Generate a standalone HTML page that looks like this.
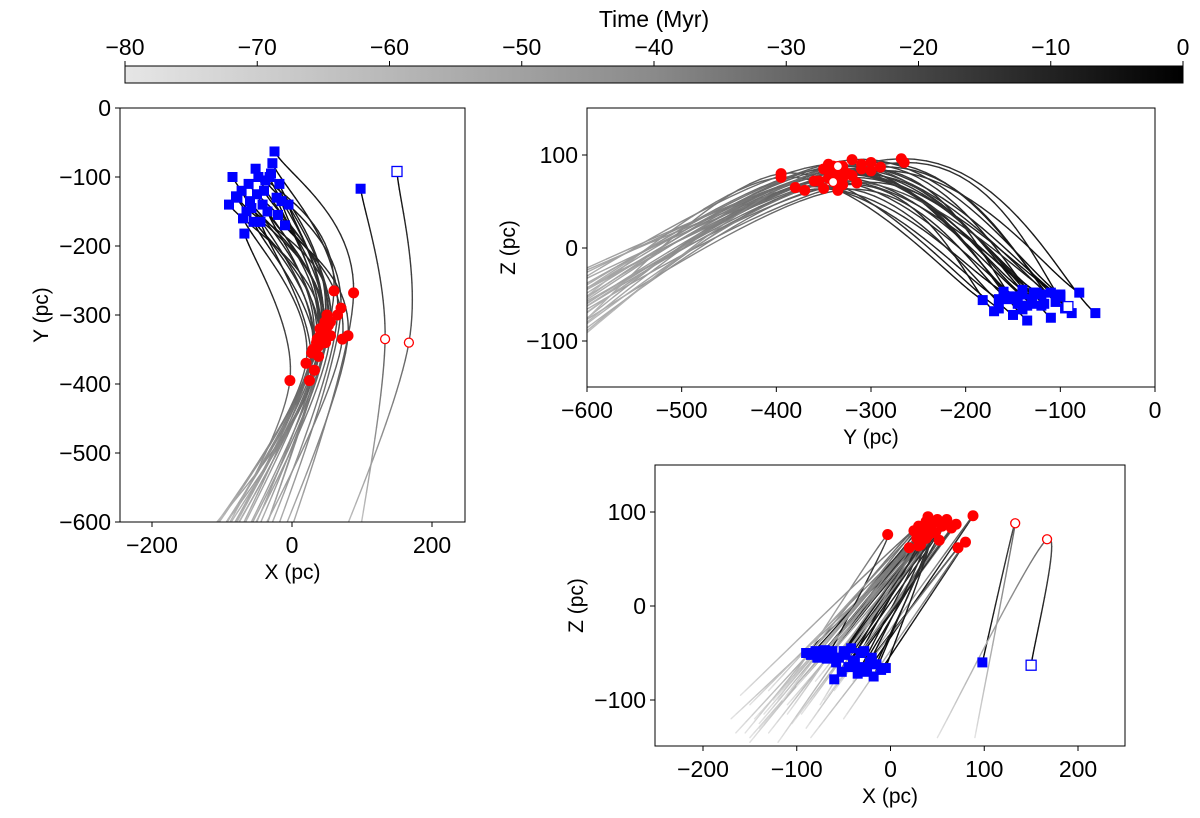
<!DOCTYPE html>
<html><head><meta charset="utf-8"><style>
body{margin:0;background:#fff;}
svg text{font-family:"Liberation Sans","DejaVu Sans",sans-serif;fill:#000;}
</style></head><body>
<svg id="fig" width="1200" height="813" viewBox="0 0 1200 813" xmlns="http://www.w3.org/2000/svg">
<defs>
<linearGradient id="cbg" x1="0" x2="1" y1="0" y2="0"><stop offset="0" stop-color="#e6e6e6"/><stop offset="0.5" stop-color="#8a8a8a"/><stop offset="1" stop-color="#000"/></linearGradient>
<clipPath id="c1"><rect x="120" y="108" width="345" height="414"/></clipPath>
<clipPath id="c2"><rect x="587" y="108" width="568" height="279"/></clipPath>
<clipPath id="c3"><rect x="655" y="465" width="470" height="281"/></clipPath>
</defs>
<g id="cbar"></g>
<g id="p1"></g>
<g id="p2"></g>
<g id="p3"></g>
</svg>
<script>
const nowX=[-90,-85,-80,-78,-72,-70,-68,-65,-62,-60,-58,-55,-52,-50,-48,-45,-42,-40,-38,-35,-32,-30,-28,-25,-22,-20,-18,-15,-10,-5,98,150];
const nowY=[-140,-100,-128,-130,-120,-160,-182,-150,-110,-135,-145,-165,-88,-125,-100,-165,-140,-120,-105,-150,-100,-95,-80,-63,-130,-155,-110,-135,-170,-140,-117,-92];
const nowZ=[-50,-52,-48,-55,-50,-47,-56,-52,-48,-78,-60,-55,-70,-48,-52,-65,-45,-62,-58,-72,-50,-65,-48,-70,-60,-55,-75,-62,-68,-66,-60,-63];
const birthX=[40,35,30,45,28,20,-3,38,50,42,55,32,60,36,45,25,48,52,70,30,40,55,65,88,35,72,47,38,80,42,133,167];
const birthY=[-330,-340,-350,-320,-355,-370,-395,-345,-300,-325,-310,-380,-265,-335,-330,-395,-340,-315,-290,-350,-320,-330,-300,-268,-345,-335,-310,-360,-330,-340,-335,-340];
const birthZ=[75,80,85,78,72,62,76,90,92,80,85,65,92,82,88,80,78,70,87,64,95,85,83,96,75,62,90,72,68,88,88,71];
const endX=[-170,-150,-160,-140,-165,-150,-120,-130,-100,-145,-110,-150,-80,-135,-125,-155,-105,-90,-60,-120,-115,-95,-70,-40,-140,-85,-75,-130,-50,-110,90,50];
const endY=[-700,-690,-680,-710,-690,-670,-660,-700,-720,-690,-710,-680,-730,-700,-690,-660,-700,-710,-720,-680,-700,-690,-710,-730,-680,-700,-720,-670,-710,-690,-660,-680];
const endZ=[-120,-105,-95,-130,-135,-145,-100,-90,-85,-120,-105,-140,-80,-115,-100,-135,-125,-130,-90,-145,-100,-115,-100,-80,-125,-140,-105,-135,-120,-115,-140,-140];
const birthT=[-25,-24,-26,-23,-27,-28,-30,-25,-22,-24,-23,-28,-20,-25,-24,-29,-25,-23,-21,-27,-24,-25,-22,-20,-26,-25,-23,-27,-24,-25,-30,-32];
const openStar=[false,false,false,false,false,false,false,false,false,false,false,false,false,false,false,false,false,false,false,false,false,false,false,false,false,false,false,false,false,false,false,true];
const cbTicks=[-80,-70,-60,-50,-40,-30,-20,-10,0];

const NS="http://www.w3.org/2000/svg";
function mk(parent,tag,attrs,name){const e=document.createElementNS(NS,tag);for(const k in attrs)e.setAttribute(k,attrs[k]);


parent.appendChild(e);return e;}
function txt(parent,x,y,s,size,anchor,name,rot){const t=mk(parent,'text',{x:x,y:y,'font-size':size,'text-anchor':anchor},name);if(rot)t.setAttribute('transform',`rotate(-90 ${x} ${y})`);t.textContent=s;return t;}
function lab(v){return v<0?'\u2212'+Math.abs(v):''+v;}
function grey(t){const v=Math.round(225*Math.min(1,Math.max(0,-t/80)));return `rgb(${v},${v},${v})`;}

const cb=document.getElementById('cbar');
const cbx=v=>125+(v+80)/80*1058;
mk(cb,'rect',{x:125,y:66,width:1058,height:17,fill:'url(#cbg)',stroke:'#000','stroke-width':1},'colorbar-gradient');
cbTicks.forEach(v=>{mk(cb,'line',{x1:cbx(v),x2:cbx(v),y1:61,y2:66,stroke:'#000'},'colorbar-tick');txt(cb,cbx(v),55,lab(v),23,'middle','colorbar-tick-label');});
txt(cb,654,27,'Time (Myr)',23,'middle','colorbar-title');

function panel(id,clip,box,xd,yd,xt,yt,xl,yl,getX,getY){
  const g=document.getElementById(id);
  const sx=v=>xd[2]+(v-xd[0])/(xd[1]-xd[0])*(xd[3]-xd[2]);
  const sy=v=>yd[2]+(v-yd[0])/(yd[1]-yd[0])*(yd[3]-yd[2]);
  const cg=mk(g,'g',{'clip-path':`url(#${clip})`},'plot-area');
  for(let i=0;i<nowX.length;i++){
    const P=[[getX(nowX,nowY,nowZ,i),getY(nowX,nowY,nowZ,i),0],[getX(birthX,birthY,birthZ,i),getY(birthX,birthY,birthZ,i),birthT[i]],[getX(endX,endY,endZ,i),getY(endX,endY,endZ,i),-80]];
    const pts=[P[0],P[0],P[1],P[2],P[2]];
    let prev=null;
    for(let s=0;s<2;s++){const p0=pts[s],p1=pts[s+1],p2=pts[s+2],p3=pts[s+3];
      for(let k=0;k<=24;k++){const t=k/24,t2=t*t,t3=t2*t;
        const cr=j=>0.5*((2*p1[j])+(-p0[j]+p2[j])*t+(2*p0[j]-5*p1[j]+4*p2[j]-p3[j])*t2+(-p0[j]+3*p1[j]-3*p2[j]+p3[j])*t3);
        const q=[sx(cr(0)),sy(cr(1)),p1[2]+(p2[2]-p1[2])*t];
        if(prev)mk(cg,'line',{x1:prev[0],y1:prev[1],x2:q[0],y2:q[1],stroke:grey(q[2]),'stroke-width':1.4,'stroke-linecap':'round'},'trajectory-segment');
        prev=q;}}
  }
  for(let i=0;i<nowX.length;i++){
    const bx=sx(getX(birthX,birthY,birthZ,i)),by=sy(getY(birthX,birthY,birthZ,i));
    const op=i>=30;
    mk(cg,'circle',{cx:bx,cy:by,r:op?4.5:5.5,fill:op?'#fff':'#f00',stroke:'#f00','stroke-width':op?1.3:0},'birth-position-marker');
  }
  for(let i=0;i<nowX.length;i++){
    const x=sx(getX(nowX,nowY,nowZ,i)),y=sy(getY(nowX,nowY,nowZ,i));
    const op=openStar[i];
    mk(cg,'rect',{x:x-5,y:y-5,width:10,height:10,fill:op?'#fff':'#00f',stroke:'#00f','stroke-width':op?1.3:0},'current-position-marker');
  }
  mk(g,'rect',{x:box[0],y:box[1],width:box[2]-box[0],height:box[3]-box[1],fill:'none',stroke:'#000','stroke-width':1},'axes-frame');
  xt.forEach(v=>{const x=sx(v);mk(g,'line',{x1:x,x2:x,y1:box[3],y2:box[3]+5,stroke:'#000'},'x-tick');txt(g,x,box[3]+31,lab(v),23,'middle','x-tick-label');});
  yt.forEach(v=>{const y=sy(v);mk(g,'line',{x1:box[0]-5,x2:box[0],y1:y,y2:y,stroke:'#000'},'y-tick');txt(g,box[0]-9,y+8,lab(v),23,'end','y-tick-label');});
  txt(g,(box[0]+box[2])/2,box[3]+57,xl,21,'middle','x-axis-title');
  txt(g,box[0]-72,(box[1]+box[3])/2,yl,21,'middle','y-axis-title',true);
}
panel('p1','c1',[120,108,465,522],[-200,200,152,432],[0,-600,108,522],[-200,0,200],[0,-100,-200,-300,-400,-500,-600],'X (pc)','Y (pc)',(X,Y,Z,i)=>X[i],(X,Y,Z,i)=>Y[i]);
panel('p2','c2',[587,108,1155,387],[-600,0,587,1155],[100,-100,155,341],[-600,-500,-400,-300,-200,-100,0],[100,0,-100],'Y (pc)','Z (pc)',(X,Y,Z,i)=>Y[i],(X,Y,Z,i)=>Z[i]);
panel('p3','c3',[655,465,1125,746],[-200,200,703,1078],[100,-100,512,700],[-200,-100,0,100,200],[100,0,-100],'X (pc)','Z (pc)',(X,Y,Z,i)=>X[i],(X,Y,Z,i)=>Z[i]);
</script>
</body></html>
